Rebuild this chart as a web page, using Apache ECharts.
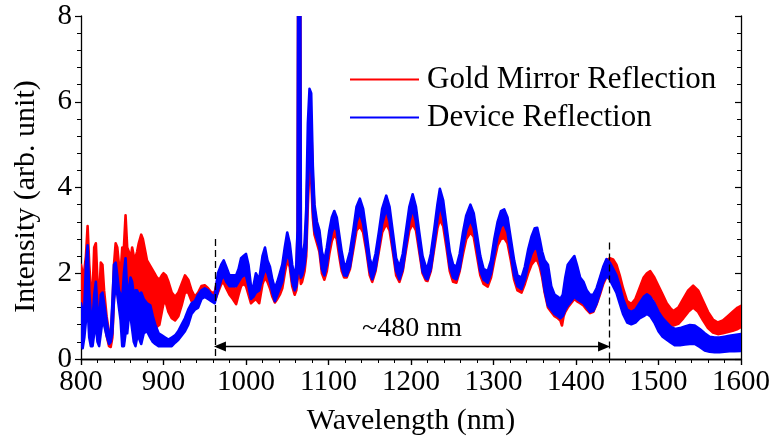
<!DOCTYPE html>
<html>
<head>
<meta charset="utf-8">
<script src="https://cdn.jsdelivr.net/npm/echarts@6/dist/echarts.min.js"></script>
<style>
  html, body { margin: 0; padding: 0; background: #fff; }
  #chart { width: 773px; height: 441px; }
</style>
</head>
<body>
<div id="chart"></div>
<script>
// envelopes (upper / lower edge of the noisy trace)
const goldNm = [800, 803, 806, 808, 810, 812, 814, 816, 818, 820, 822, 824, 826, 828, 831, 834, 836, 838, 840, 842, 844, 846, 848, 850, 852, 854, 856, 858, 860, 862, 865, 868, 870, 873, 875, 878, 880, 883, 886, 889, 892, 895, 898, 900, 903, 906, 910, 914, 918, 922, 926, 930, 934, 938, 942, 946, 950, 954, 958, 962,
  966, 970, 973, 976, 980, 984, 988, 991, 994, 997, 1000, 1003, 1006, 1009, 1012, 1016, 1020, 1023, 1026, 1029, 1032, 1035, 1038, 1041, 1044, 1047, 1050, 1053, 1056, 1059, 1061, 1062.5, 1063.2, 1065.8, 1066.5, 1068, 1071, 1073, 1075, 1077, 1079, 1081, 1083, 1086, 1089, 1092, 1095, 1098, 1101, 1104, 1107, 1110, 1113, 1116, 1119,
  1122, 1126, 1130, 1134, 1138, 1142, 1146, 1150, 1153, 1157, 1161, 1165, 1170, 1174, 1178, 1182, 1186, 1190, 1194, 1198, 1202, 1206, 1210, 1214, 1218, 1220, 1224, 1228, 1232, 1235, 1239, 1243, 1247, 1251, 1255, 1259, 1263, 1267, 1272, 1276, 1280, 1284, 1288, 1293, 1297, 1301, 1305, 1309, 1313, 1317, 1321, 1325, 1329, 1334, 1338, 1342, 1346, 1350, 1353, 1356, 1359, 1362, 1366, 1370, 1374, 1378, 1381, 1383, 1385, 1387, 1390, 1394, 1398, 1401, 1405, 1409, 1413, 1417, 1421, 1425, 1429, 1433, 1437, 1441, 1445, 1449, 1453, 1457, 1462, 1467, 1472, 1477, 1482, 1486, 1490, 1495, 1500, 1505, 1510, 1515, 1518, 1524, 1530, 1536, 1542, 1548, 1554, 1560, 1566, 1572, 1578, 1584, 1590, 1596, 1600];
const goldHi = [2.2, 1.9, 2.4, 3.1, 2.2, 1.6, 1.5, 2.6, 2.7, 1.8, 1.4, 2.25, 2.2, 1.6, 1.0, 0.6, 0.5, 1.2, 2.2, 2.7, 2.6, 2.2, 2.0, 2.6, 2.6, 3.35, 2.6, 2.5, 2.3, 2.6, 2.3, 2.5, 2.7, 2.9, 2.8, 2.5, 2.3, 2.2, 2.1, 2.0, 1.9, 1.85, 1.95, 2.0, 1.95, 1.8, 1.55, 1.45, 1.55, 1.75, 1.95, 1.85, 1.6, 1.45, 1.55, 1.7, 1.72, 1.65, 1.55, 1.55,
  1.9, 2.05, 2.13, 2.0, 1.8, 1.7, 1.6, 1.8, 2.0, 2.05, 2.05, 1.9, 1.55, 1.6, 1.75, 1.7, 2.2, 2.3, 2.1, 1.95, 1.7, 1.55, 1.65, 1.85, 2.05, 2.4, 2.75, 2.55, 2.05, 1.75, 2.0, 3.0, 9, 9, 2.4, 2.2, 2.5, 3.2, 4.8, 5.6, 5.5, 4.2, 3.5, 3.1, 2.9, 2.4, 2.2, 2.45, 2.8, 3.1, 3.26, 3.1, 2.75, 2.4, 2.15,
  2.15, 2.4, 2.85, 3.3, 3.41, 3.25, 2.8, 2.25, 2.05, 2.35, 2.8, 3.25, 3.45, 3.3, 2.8, 2.25, 2.05, 2.35, 2.85, 3.3, 3.45, 3.3, 2.8, 2.3, 2.08, 2.05, 2.35, 2.85, 3.35, 3.6, 3.4, 2.9, 2.35, 2.05, 2.05, 2.35, 2.75, 3.1, 3.3, 3.15, 2.7, 2.25, 1.98, 1.95, 2.2, 2.6, 2.95, 3.1, 3.14, 3.0, 2.6, 2.15, 1.85, 1.8, 2.0, 2.3, 2.5, 2.55, 2.55, 2.45, 2.3, 2.1, 2.0, 1.6, 1.4, 1.35, 1.3, 1.2, 1.4, 1.8, 2.1, 2.2, 2.3, 2.15, 1.85, 1.75, 1.55, 1.45, 1.45, 1.6, 1.85, 2.1, 2.3, 2.35, 2.32, 2.2, 1.95, 1.65, 1.35, 1.28, 1.4, 1.65, 1.9, 2.0, 2.05, 1.9, 1.7, 1.5, 1.3, 1.17, 1.12, 1.2, 1.4, 1.6, 1.71, 1.6, 1.35, 1.1, 0.92, 0.85, 0.9, 1.0, 1.1, 1.2, 1.24];
const goldLo = [1.0, 0.6, 1.0, 1.4, 0.9, 0.6, 0.5, 1.0, 1.3, 0.6, 0.5, 1.0, 1.2, 0.9, 0.55, 0.3, 0.28, 0.5, 1.4, 1.8, 1.9, 1.6, 1.2, 0.8, 0.4, 1.0, 1.2, 1.0, 1.2, 1.3, 1.2, 1.3, 1.4, 1.6, 1.5, 1.3, 1.1, 1.0, 0.9, 0.8, 0.75, 0.8, 1.1, 1.3, 1.3, 1.1, 0.95, 0.9, 1.0, 1.25, 1.55, 1.55, 1.35, 1.3, 1.35, 1.45, 1.5, 1.45, 1.4, 1.35,
  1.55, 1.75, 1.78, 1.65, 1.5, 1.4, 1.28, 1.5, 1.7, 1.75, 1.7, 1.5, 1.3, 1.35, 1.4, 1.3, 1.75, 1.9, 1.8, 1.65, 1.45, 1.32, 1.4, 1.5, 1.65, 2.0, 2.3, 2.15, 1.7, 1.5, 1.6, 1.85, 1.9, 1.9, 1.75, 1.8, 2.05, 2.4, 3.6, 4.5, 4.2, 3.3, 2.9, 2.7, 2.5, 2.0, 1.85, 2.05, 2.45, 2.75, 2.9, 2.8, 2.4, 2.05, 1.9,
  1.9, 2.1, 2.55, 3.0, 3.1, 2.95, 2.5, 1.95, 1.8, 2.05, 2.5, 2.95, 3.15, 3.0, 2.5, 1.95, 1.8, 2.05, 2.55, 3.0, 3.15, 3.0, 2.5, 2.0, 1.83, 1.82, 2.05, 2.55, 3.05, 3.25, 3.1, 2.6, 2.05, 1.8, 1.78, 2.05, 2.45, 2.8, 2.95, 2.85, 2.4, 1.95, 1.75, 1.69, 1.9, 2.3, 2.65, 2.8, 2.82, 2.7, 2.3, 1.85, 1.6, 1.55, 1.75, 2.0, 2.2, 2.3, 2.3, 2.15, 1.9, 1.55, 1.2, 1.1, 1.0, 0.95, 0.9, 0.78, 1.0, 1.1, 1.2, 1.3, 1.4, 1.35, 1.3, 1.25, 1.15, 1.07, 1.1, 1.28, 1.5, 1.75, 1.92, 1.95, 1.95, 1.8, 1.5, 1.25, 1.1, 1.09, 1.15, 1.3, 1.45, 1.5, 1.51, 1.4, 1.2, 1.0, 0.88, 0.8, 0.78, 0.82, 0.95, 1.1, 1.2, 1.1, 0.9, 0.72, 0.62, 0.58, 0.6, 0.63, 0.66, 0.7, 0.75];

const deviceNm = [800, 802, 804, 806, 808, 810, 812, 814, 816, 818, 820, 822, 824, 826, 828, 831, 834, 836, 838, 840, 842, 844, 846, 848, 850, 852, 854, 856, 858, 860, 862, 864, 866, 868, 870, 873, 876, 880, 884, 887, 890, 894, 898, 902, 906, 910, 914, 918, 922, 926, 930, 934, 938, 942, 946, 950, 954, 958, 962,
  966, 970, 973, 976, 980, 984, 988, 991, 994, 997, 1000, 1003, 1006, 1009, 1012, 1016, 1020, 1023, 1026, 1029, 1032, 1035, 1038, 1041, 1044, 1047, 1050, 1053, 1056, 1059, 1061, 1062.5, 1063.2, 1065.8, 1066.5, 1068, 1071, 1073, 1075, 1077, 1079, 1081, 1083, 1086, 1089, 1092, 1095, 1098, 1101, 1104, 1107, 1110, 1113, 1116, 1119,
  1122, 1126, 1130, 1134, 1138, 1142, 1146, 1150, 1153, 1157, 1161, 1165, 1170, 1174, 1178, 1182, 1186, 1190, 1194, 1198, 1202, 1206, 1210, 1214, 1218, 1220, 1224, 1228, 1232, 1235, 1239, 1243, 1247, 1251, 1255, 1259, 1263, 1267, 1272, 1276, 1280, 1284, 1288, 1293, 1297, 1301, 1305, 1309, 1313, 1317, 1321, 1325, 1329, 1334, 1338, 1342, 1346, 1350, 1353, 1356, 1359, 1362, 1366, 1370, 1374, 1378, 1381, 1384, 1387, 1390, 1394, 1398, 1401, 1405, 1409, 1413, 1417, 1421, 1425, 1429, 1433, 1437, 1441, 1445, 1449, 1453, 1457, 1462, 1467, 1472, 1477, 1482, 1486, 1490, 1495, 1500, 1505, 1510, 1515, 1520, 1526, 1532, 1538, 1544, 1550, 1556, 1562, 1568, 1574, 1580, 1586, 1592, 1600];
const deviceHi = [1.3, 1.1, 1.2, 2.2, 2.65, 1.6, 1.0, 0.9, 1.5, 1.8, 1.2, 0.8, 1.5, 1.55, 1.3, 0.9, 0.55, 0.55, 1.3, 2.2, 2.25, 1.95, 1.6, 1.5, 1.4, 2.0, 2.35, 1.6, 1.6, 1.9, 1.8, 1.5, 1.6, 1.6, 1.5, 1.55, 1.4, 1.3, 1.25, 1.0, 0.8, 0.6, 0.55, 0.5, 0.45, 0.5, 0.55, 0.65, 0.8, 0.95, 1.15, 1.3, 1.35, 1.5, 1.6, 1.65, 1.6, 1.5, 1.45,
  2.0, 2.2, 2.3, 2.15, 1.95, 1.95, 1.95, 2.1, 2.35, 2.4, 2.45, 2.2, 1.7, 1.7, 2.0, 1.85, 2.4, 2.6, 2.3, 2.15, 1.85, 1.65, 1.8, 2.0, 2.2, 2.6, 2.95, 2.7, 2.2, 1.9, 2.2, 3.0, 9, 9, 2.6, 2.35, 2.7, 3.5, 5.5, 6.3, 6.2, 4.5, 3.6, 3.2, 3.0, 2.5, 2.3, 2.6, 3.0, 3.3, 3.45, 3.3, 2.9, 2.5, 2.2,
  2.22, 2.5, 3.0, 3.55, 3.74, 3.5, 2.95, 2.35, 2.15, 2.45, 2.95, 3.5, 3.81, 3.55, 2.95, 2.35, 2.15, 2.45, 3.0, 3.55, 3.84, 3.55, 2.95, 2.4, 2.15, 2.13, 2.45, 3.0, 3.6, 3.97, 3.7, 3.1, 2.5, 2.2, 2.15, 2.45, 2.95, 3.35, 3.6, 3.4, 2.9, 2.4, 2.1, 2.05, 2.3, 2.8, 3.2, 3.45, 3.49, 3.3, 2.8, 2.3, 1.95, 1.9, 2.15, 2.55, 2.85, 3.05, 3.06, 2.8, 2.5, 2.3, 2.2, 1.7, 1.5, 1.45, 1.4, 1.5, 1.9, 2.2, 2.3, 2.4, 2.2, 1.9, 1.8, 1.6, 1.5, 1.5, 1.65, 1.9, 2.15, 2.33, 2.25, 2.1, 1.95, 1.7, 1.4, 1.15, 1.1, 1.15, 1.3, 1.45, 1.51, 1.45, 1.3, 1.1, 0.95, 0.85, 0.75, 0.7, 0.72, 0.76, 0.79, 0.78, 0.7, 0.6, 0.52, 0.5, 0.5, 0.52, 0.54, 0.56, 0.58];
const deviceLo = [0.45, 0.25, 0.5, 0.9, 1.2, 0.5, 0.3, 0.3, 0.6, 0.8, 0.4, 0.3, 0.6, 0.9, 0.8, 0.55, 0.35, 0.4, 0.6, 1.4, 1.7, 1.5, 1.2, 0.9, 0.3, 0.3, 0.6, 0.6, 1.0, 1.0, 0.7, 0.4, 0.3, 0.5, 0.5, 0.35, 0.6, 0.65, 0.5, 0.4, 0.35, 0.3, 0.3, 0.3, 0.3, 0.3, 0.38, 0.45, 0.55, 0.65, 0.8, 1.05, 1.15, 1.2, 1.4, 1.45, 1.4, 1.35, 1.3,
  1.6, 1.85, 1.95, 1.8, 1.7, 1.7, 1.7, 1.8, 1.9, 1.95, 1.95, 1.7, 1.4, 1.45, 1.55, 1.6, 1.9, 2.1, 2.0, 1.8, 1.55, 1.35, 1.5, 1.65, 1.8, 2.2, 2.45, 2.3, 1.8, 1.6, 1.7, 2.0, 2.0, 2.0, 1.9, 1.95, 2.2, 2.6, 4.0, 5.0, 4.5, 3.5, 3.0, 2.8, 2.6, 2.1, 1.95, 2.2, 2.65, 2.95, 3.1, 3.0, 2.55, 2.15, 1.95,
  1.94, 2.15, 2.65, 3.2, 3.42, 3.15, 2.6, 2.05, 1.86, 2.1, 2.6, 3.15, 3.5, 3.2, 2.6, 2.05, 1.86, 2.1, 2.65, 3.2, 3.52, 3.2, 2.6, 2.05, 1.88, 1.86, 2.1, 2.65, 3.25, 3.6, 3.3, 2.75, 2.15, 1.9, 1.86, 2.1, 2.6, 3.0, 3.25, 3.05, 2.55, 2.05, 1.85, 1.78, 2.0, 2.45, 2.85, 3.1, 3.15, 2.95, 2.45, 1.95, 1.7, 1.63, 1.85, 2.2, 2.45, 2.6, 2.55, 2.3, 2.0, 1.6, 1.25, 1.15, 1.05, 1.0, 0.95, 1.0, 1.15, 1.25, 1.35, 1.45, 1.4, 1.35, 1.3, 1.2, 1.1, 1.12, 1.3, 1.55, 1.8, 1.94, 1.85, 1.7, 1.55, 1.3, 1.05, 0.85, 0.81, 0.85, 0.95, 1.0, 1.05, 1.0, 0.85, 0.65, 0.52, 0.45, 0.38, 0.32, 0.32, 0.34, 0.35, 0.35, 0.28, 0.2, 0.17, 0.16, 0.16, 0.17, 0.18, 0.18, 0.19];

const bandStart = 962.4;   // left dashed marker (nm)
const bandEnd = 1440;      // right dashed marker (nm)
const spanLabel = '~480 nm';

const FONT = 'Liberation Serif';
const chart = echarts.init(document.getElementById('chart'));

function band(name, nm, hi, lo, color) {
  return {
    name: name,
    type: 'custom',
    clip: true,
    silent: true,
    animation: false,
    itemStyle: { color: color },
    encode: { x: 0, y: [1, 2] },
    data: nm.map((x, i) => [x, lo[i], hi[i]]),
    renderItem: function (params, api) {
      if (params.dataIndex !== 0) return null;
      const pts = [];
      for (let i = 0; i < nm.length; i++) pts.push(api.coord([nm[i], hi[i]]));
      for (let i = nm.length - 1; i >= 0; i--) pts.push(api.coord([nm[i], lo[i]]));
      return {
        type: 'polygon',
        shape: { points: pts },
        style: { fill: color, stroke: color, lineWidth: 2.6, lineJoin: 'round' }
      };
    }
  };
}

const axisLine = { show: true, lineStyle: { color: '#000', width: 1.3 } };
const labelStyle = { fontFamily: FONT, fontSize: 29, color: '#000' };
const titleStyle = { fontFamily: FONT, fontSize: 30, color: '#000' };

const option = {
  backgroundColor: '#fff',
  animation: false,
  grid: { left: 81, right: 32, top: 16, bottom: 81, containLabel: false },
  legend: {
    data: ['Gold Mirror Reflection', 'Device Reflection'],
    orient: 'vertical',
    left: 350,
    top: 64,
    padding: 0,
    icon: 'rect',
    itemWidth: 69,
    itemHeight: 2,
    itemGap: 7,
    textStyle: { fontFamily: FONT, fontSize: 31, color: '#000', padding: [0, 0, 0, 3] }
  },
  xAxis: [
    {
      type: 'value', min: 800, max: 1600, interval: 100, position: 'bottom',
      axisLine: axisLine,
      axisTick: { show: true, inside: false, length: 6, lineStyle: { color: '#000', width: 1.2 } },
      minorTick: { show: true, splitNumber: 5, length: 4, lineStyle: { color: '#000', width: 1 } },
      splitLine: { show: false },
      axisLabel: Object.assign({ margin: 9, formatter: v => String(v) }, labelStyle),
      name: 'Wavelength (nm)', nameLocation: 'middle', nameGap: 47, nameTextStyle: titleStyle
    },
    {
      type: 'value', min: 800, max: 1600, interval: 100, position: 'top',
      axisLine: axisLine,
      axisTick: { show: true, inside: true, length: 6, lineStyle: { color: '#000', width: 1.2 } },
      minorTick: { show: true, splitNumber: 5, length: 4, lineStyle: { color: '#000', width: 1 } },
      splitLine: { show: false },
      axisLabel: { show: false }
    }
  ],
  yAxis: [
    {
      type: 'value', min: 0, max: 8, interval: 2, position: 'left',
      axisLine: axisLine,
      axisTick: { show: true, inside: false, length: 6, lineStyle: { color: '#000', width: 1.2 } },
      minorTick: { show: true, splitNumber: 5, length: 4, lineStyle: { color: '#000', width: 1 } },
      splitLine: { show: false },
      axisLabel: Object.assign({ margin: 9 }, labelStyle),
      name: 'Intensity (arb. unit)', nameLocation: 'middle', nameGap: 40,
      nameTextStyle: Object.assign({ padding: [0, 18, 0, 0] }, titleStyle)
    },
    {
      type: 'value', min: 0, max: 8, interval: 2, position: 'right',
      axisLine: axisLine,
      axisTick: { show: true, inside: true, length: 6, lineStyle: { color: '#000', width: 1.2 } },
      minorTick: { show: true, splitNumber: 5, length: 4, lineStyle: { color: '#000', width: 1 } },
      splitLine: { show: false },
      axisLabel: { show: false }
    }
  ],
  series: [
    band('Gold Mirror Reflection', goldNm, goldHi, goldLo, '#ff0000'),
    band('Device Reflection', deviceNm, deviceHi, deviceLo, '#0000ff'),
    {
      name: 'markers',
      type: 'line',
      data: [],
      silent: true,
      markLine: {
        silent: true,
        animation: false,
        symbol: 'none',
        label: { show: false },
        lineStyle: { color: '#000', width: 1.3, type: [7, 4] },
        data: [
          [{ coord: [bandStart, 2.8] }, { coord: [bandStart, 0] }],
          [{ coord: [bandEnd, 2.72] }, { coord: [bandEnd, 0] }],
          [
            {
              coord: [bandStart + 6, 0.29],
              symbol: 'triangle',
              symbolSize: [10, 12],
              lineStyle: { type: 'solid', width: 1.3, color: '#000' },
              label: {
                show: true, position: 'insideMiddleTop', distance: 4,
                formatter: spanLabel, fontFamily: FONT, fontSize: 28, color: '#000'
              }
            },
            { coord: [bandEnd - 6, 0.29], symbol: 'triangle', symbolSize: [10, 12] }
          ]
        ]
      }
    }
  ]
};

chart.setOption(option);
</script>
</body>
</html>
